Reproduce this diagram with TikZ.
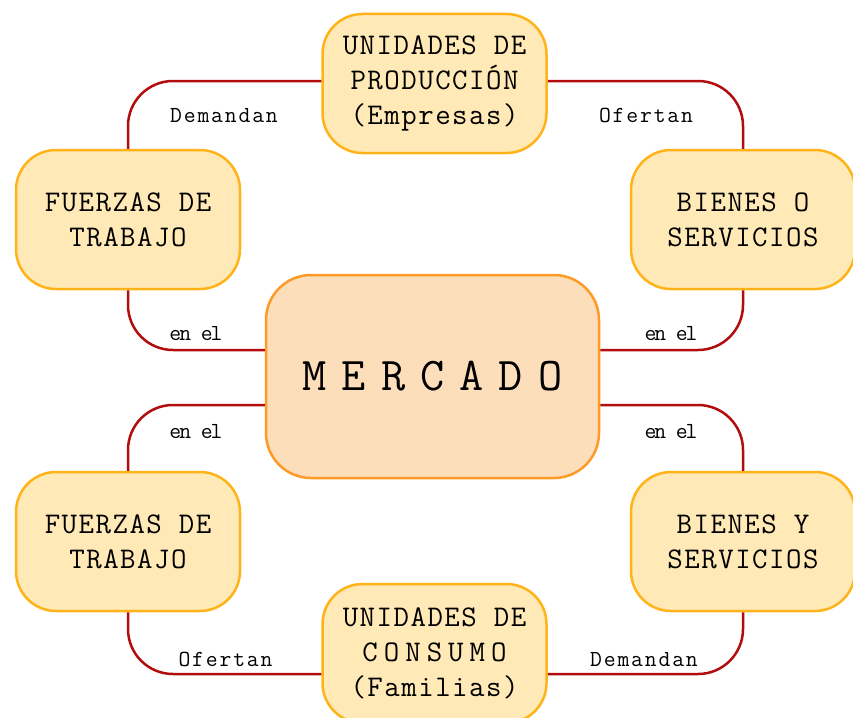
\documentclass[tikz,border=0pt]{standalone}
\usepackage{fontspec}
\setmonofont{Latin Modern Mono}
\usetikzlibrary{calc}

\definecolor{ideafill}{HTML}{FFE9B6}
\definecolor{idealine}{HTML}{FFB319}
\definecolor{mercfill}{HTML}{FDDEBB}
\definecolor{mercline}{HTML}{FF9A26}
\definecolor{linkred}{HTML}{B30C0C}

\newcommand{\spaced}[1]{\addfontfeature{LetterSpace=#1}}

\tikzset{
  idea/.style={draw=idealine, fill=ideafill, line width=2.5pt, rounded corners=40pt,
    minimum width=224pt, minimum height=139pt, inner sep=0pt, align=center,
    font=\ttfamily\fontsize{30}{35}\selectfont\spaced{5}},
  hub/.style={draw=mercline, fill=mercfill, line width=2.5pt, rounded corners=45pt,
    minimum width=333pt, minimum height=203pt, inner sep=0pt,
    font=\ttfamily\fontsize{47}{47}\selectfont\spaced{32}},
  link/.style={draw=linkred, line width=2.5pt, rounded corners=45pt},
  tag/.style={anchor=base, inner sep=0pt, font=\ttfamily\fontsize{23}{23}\selectfont\spaced{8}},
  tagtight/.style={tag, font=\ttfamily\fontsize{23}{23}\selectfont\spaced{-9}},
}

\begin{document}
\begin{tikzpicture}[x=1pt,y=-1pt]
  \useasboundingbox (0,0) rectangle (853,717);

  % nodes
  \node[hub] (merc) at (432.5,376.5) {MERCADO};
  \node[idea] (prod) at (434.5,83.5) {UNIDADES DE\\PRODUCCIÓN\\(Empresas)};
  \node[idea] (cons) at (434.5,653.5) {UNIDADES DE\\{\spaced{20}CONSUMO}\\(Familias)};
  \node[idea] (fza1) at (128,219.5) {FUERZAS DE\\TRABAJO};
  \node[idea] (fza2) at (128,541.5) {FUERZAS DE\\TRABAJO};
  \node[idea] (bien1) at (743,219.5) {BIENES O\\SERVICIOS};
  \node[idea] (bien2) at (743,541.5) {BIENES Y\\SERVICIOS};

  \coordinate (mw1) at ($(merc.west)+(0,-26.5)$);
  \coordinate (mw2) at ($(merc.west)+(0,28.5)$);
  \coordinate (me1) at ($(merc.east)+(0,-26.5)$);
  \coordinate (me2) at ($(merc.east)+(0,28.5)$);
  \coordinate (pw) at ($(prod.west)+(0,-2.5)$);
  \coordinate (pe) at ($(prod.east)+(0,-2.5)$);
  \coordinate (cw) at ($(cons.west)+(0,20.5)$);
  \coordinate (ce) at ($(cons.east)+(0,20.5)$);

  % connectors
  \draw[link] (pw) -| (fza1.north);
  \draw[link] (fza1.south) |- (mw1);
  \draw[link] (pe) -| (bien1.north);
  \draw[link] (bien1.south) |- (me1);
  \draw[link] (mw2) -| (fza2.north);
  \draw[link] (fza2.south) |- (cw);
  \draw[link] (me2) -| (bien2.north);
  \draw[link] (bien2.south) |- (ce);

  % labels
  \node[tag] (t1) at (224,122) {Demandan};
  \node[tag] (t2) at (646,122) {Ofertan};
  \node[tagtight] (t3) at (196,340) {en el};
  \node[tagtight] (t4) at (671,340) {en el};
  \node[tagtight] (t5) at (196,438) {en el};
  \node[tagtight] (t6) at (671,438) {en el};
  \node[tag] (t7) at (225.5,666) {Ofertan};
  \node[tag] (t8) at (644,666) {Demandan};
\end{tikzpicture}
\end{document}
